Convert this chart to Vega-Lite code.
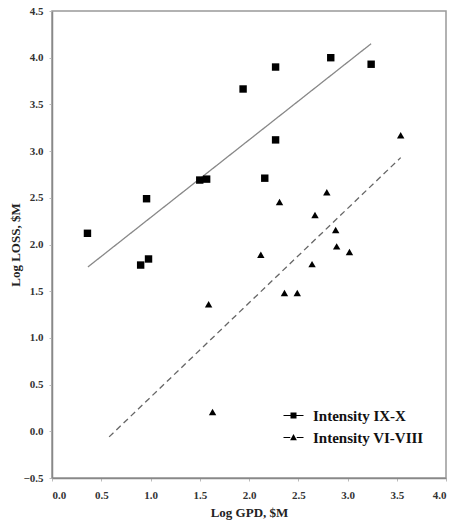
{
  "$schema": "https://vega.github.io/schema/vega-lite/v6.json",
  "width": 394,
  "height": 467,
  "autosize": {"type": "none"},
  "padding": {"left": 52, "top": 11, "right": 8, "bottom": 45},
  "background": "white",
  "config": {
    "view": {"stroke": "#999", "strokeWidth": 1.5},
    "font": "Liberation Serif",
    "axis": {
      "grid": false,
      "domainColor": "#888",
      "domainWidth": 1.5,
      "tickColor": "#bbb",
      "tickSize": 3,
      "labelFont": "Liberation Serif",
      "labelFontWeight": "bold",
      "labelFontSize": 11,
      "labelColor": "#333",
      "titleFont": "Liberation Serif",
      "titleFontWeight": "bold",
      "titleFontSize": 13,
      "titleColor": "#222"
    }
  },
  "datasets": {
    "pts": [
      {"gpd": 0.36, "loss": 2.12, "series": "Intensity IX-X"},
      {"gpd": 0.90, "loss": 1.78, "series": "Intensity IX-X"},
      {"gpd": 0.98, "loss": 1.845, "series": "Intensity IX-X"},
      {"gpd": 0.96, "loss": 2.49, "series": "Intensity IX-X"},
      {"gpd": 1.50, "loss": 2.69, "series": "Intensity IX-X"},
      {"gpd": 1.57, "loss": 2.70, "series": "Intensity IX-X"},
      {"gpd": 1.94, "loss": 3.665, "series": "Intensity IX-X"},
      {"gpd": 2.27, "loss": 3.90, "series": "Intensity IX-X"},
      {"gpd": 2.83, "loss": 4.00, "series": "Intensity IX-X"},
      {"gpd": 3.24, "loss": 3.93, "series": "Intensity IX-X"},
      {"gpd": 2.27, "loss": 3.12, "series": "Intensity IX-X"},
      {"gpd": 2.16, "loss": 2.71, "series": "Intensity IX-X"},
      {"gpd": 3.54, "loss": 3.17, "series": "Intensity VI-VIII"},
      {"gpd": 2.79, "loss": 2.56, "series": "Intensity VI-VIII"},
      {"gpd": 2.31, "loss": 2.455, "series": "Intensity VI-VIII"},
      {"gpd": 2.67, "loss": 2.316, "series": "Intensity VI-VIII"},
      {"gpd": 2.88, "loss": 2.155, "series": "Intensity VI-VIII"},
      {"gpd": 2.89, "loss": 1.98, "series": "Intensity VI-VIII"},
      {"gpd": 3.02, "loss": 1.92, "series": "Intensity VI-VIII"},
      {"gpd": 2.12, "loss": 1.89, "series": "Intensity VI-VIII"},
      {"gpd": 2.64, "loss": 1.79, "series": "Intensity VI-VIII"},
      {"gpd": 2.36, "loss": 1.48, "series": "Intensity VI-VIII"},
      {"gpd": 2.49, "loss": 1.48, "series": "Intensity VI-VIII"},
      {"gpd": 1.59, "loss": 1.36, "series": "Intensity VI-VIII"},
      {"gpd": 1.63, "loss": 0.207, "series": "Intensity VI-VIII"}
    ],
    "fits": [
      {"gpd": 0.365, "loss": 1.76, "series": "Intensity IX-X"},
      {"gpd": 3.24, "loss": 4.15, "series": "Intensity IX-X"},
      {"gpd": 0.58, "loss": -0.06, "series": "Intensity VI-VIII"},
      {"gpd": 3.54, "loss": 2.93, "series": "Intensity VI-VIII"}
    ]
  },
  "encoding": {
    "x": {"field": "gpd", "type": "quantitative", "scale": {"domain": [0, 4], "nice": false, "zero": false},
          "axis": {"title": "Log GPD, $M", "values": [0, 0.5, 1, 1.5, 2, 2.5, 3, 3.5, 4], "format": ".1f", "labelPadding": 8, "titlePadding": 6}},
    "y": {"field": "loss", "type": "quantitative", "scale": {"domain": [-0.5, 4.5], "nice": false, "zero": false},
          "axis": {"title": "Log LOSS, $M", "values": [-0.5, 0, 0.5, 1, 1.5, 2, 2.5, 3, 3.5, 4, 4.5], "format": ".1f", "labelPadding": 6, "titlePadding": 0}}
  },
  "layer": [
    {
      "data": {"name": "fits"},
      "mark": {"type": "line", "strokeWidth": 1.3},
      "encoding": {
        "detail": {"field": "series"},
        "color": {"field": "series", "type": "nominal", "scale": {"range": ["#888", "#666"]}, "legend": null},
        "strokeDash": {"field": "series", "type": "nominal", "scale": {"range": [[1, 0], [6, 4]]}, "legend": null}
      }
    },
    {
      "data": {"name": "pts"},
      "mark": {"type": "point", "filled": true, "size": 55, "color": "black", "opacity": 1},
      "encoding": {
        "shape": {"field": "series", "type": "nominal", "scale": {"range": ["square", "triangle-up"]}, "legend": null}
      }
    },
    {
      "data": {"name": "pts"},
      "mark": {"type": "point", "filled": true, "size": 100, "color": "black", "opacity": 0},
      "encoding": {
        "shape": {"field": "series", "type": "nominal",
          "scale": {"range": [
            "M-2,-0.1H-0.6V0.1H-2ZM0.6,-0.1H2V0.1H0.6ZM-0.6,-0.6H0.6V0.6H-0.6Z",
            "M-2,-0.1H-0.65V0.1H-2ZM0.65,-0.1H2V0.1H0.65ZM0,-0.7L0.68,0.55H-0.68Z"
          ]},
          "legend": {
            "title": null,
            "orient": "none",
            "legendX": 234,
            "legendY": 397,
            "padding": 0,
            "symbolSize": 100,
            "symbolOpacity": 1,
            "symbolFillColor": "black",
            "labelFont": "Liberation Serif",
            "labelFontWeight": "bold",
            "labelFontSize": 15,
            "labelColor": "#111",
            "labelOffset": 12,
            "rowPadding": 6
          }
        }
      }
    }
  ],
  "resolve": {"scale": {"shape": "independent"}}
}
